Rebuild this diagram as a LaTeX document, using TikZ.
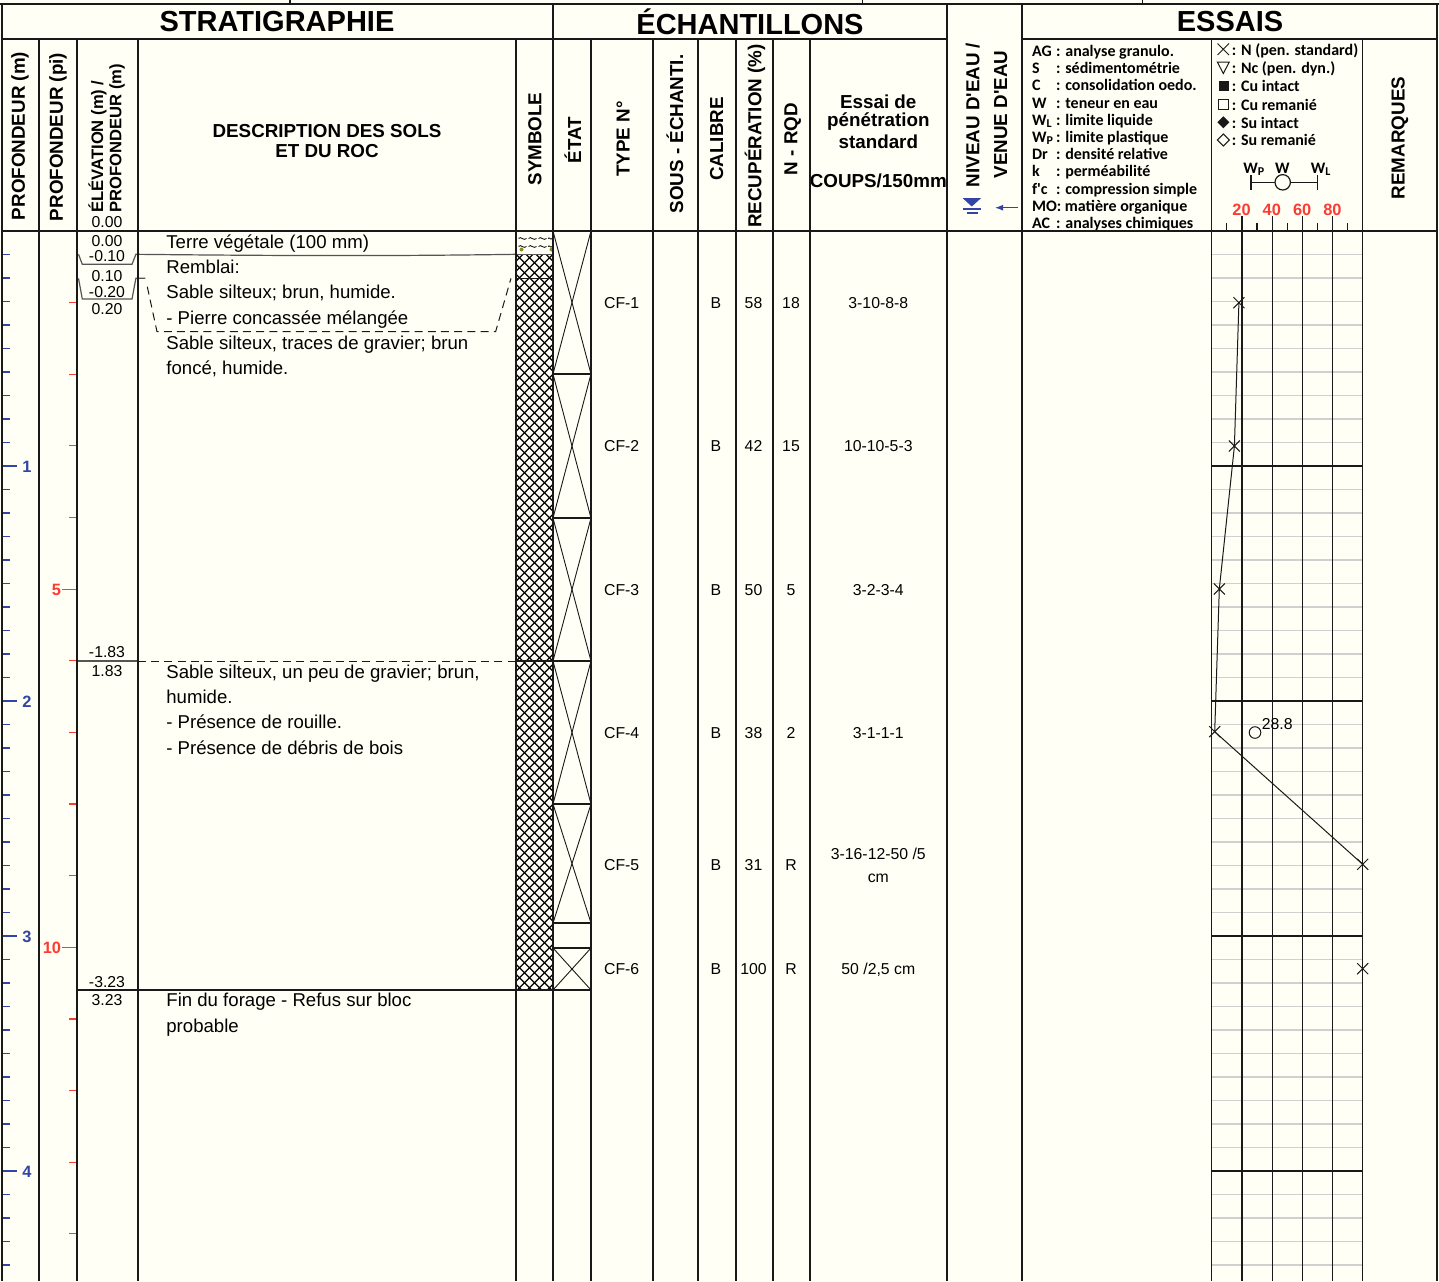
\documentclass[tikz,border=0pt]{standalone}
\usepackage{fontspec}
\setmainfont{Liberation Sans}
\newfontfamily\calfont{Carlito}
\usetikzlibrary{arrows.meta}
\definecolor{bgc}{RGB}{255,255,245}
\definecolor{scblue}{RGB}{50,68,165}
\definecolor{scred}{RGB}{250,60,50}
\definecolor{gridg}{RGB}{208,208,208}
\definecolor{lnc}{RGB}{25,25,25}
\definecolor{bndg}{RGB}{85,85,85}
\definecolor{dotc}{RGB}{140,140,40}
\tikzset{
  xm/.pic={\draw[lnc,line width=0.5pt] (-5.5,-5.5) -- (5.5,5.5) (-5.5,5.5) -- (5.5,-5.5);},
  frame/.style={draw=lnc,line width=0.6pt},
  thinl/.style={draw=lnc,line width=0.45pt},
  title/.style={font=\bfseries\fontsize{14.5}{17}\selectfont,inner sep=0pt},
  hdr/.style={font=\bfseries\fontsize{9.4}{11}\selectfont,inner sep=0pt,rotate=90},
  hdrs/.style={font=\bfseries\fontsize{8.3}{10}\selectfont,inner sep=0pt,rotate=90,anchor=west},
  hdrh/.style={font=\bfseries\fontsize{9.4}{11}\selectfont,inner sep=0pt},
  desc/.style={font=\fontsize{9.3}{11}\selectfont,inner sep=0pt,anchor=west,text height=6.7pt,text depth=1.9pt,yshift=-1pt},
  dat/.style={font=\fontsize{7.9}{9.5}\selectfont,inner sep=0pt,text height=5.7pt,text depth=1.6pt,yshift=-1pt},
  leg/.style={font=\calfont\bfseries\fontsize{8}{9.5}\selectfont,inner sep=0pt,anchor=west,text height=5.2pt,text depth=1.5pt,yshift=-1pt},
  sclab/.style={font=\bfseries\fontsize{8.2}{9.5}\selectfont,inner sep=0pt,yshift=-0.5pt},
}
\begin{document}
\begin{tikzpicture}[x=0.5pt,y=-0.5pt]
\fill[bgc] (0,0) rectangle (1439,1281);
\useasboundingbox (0,0) rectangle (1439,1281);

% ---------- chart grid ----------
\foreach \k in {1,...,44}{\draw[gridg,line width=0.8pt] (1211.7,{231+23.5*\k}) -- (1362.7,{231+23.5*\k});}
\foreach \y in {466,701,936,1171}{\draw[frame] (1211.7,\y) -- (1362.7,\y);}
\foreach \x in {1241.9,1272.1,1302.3,1332.5}{\draw[frame] (\x,216) -- (\x,1281);}
\foreach \x in {1226.8,1257.0,1287.2,1317.4,1347.6}{\draw[frame] (\x,223) -- (\x,231);}

% ---------- left scales ----------
\foreach \k in {0,...,44}{\draw[scblue,line width=0.6pt] (2,{231+23.5*\k}) -- (10,{231+23.5*\k});}
\foreach \k in {0,10,20,30,40}{\draw[scblue,line width=0.6pt] (2,{231+23.5*\k}) -- (17,{231+23.5*\k});}
\node[sclab,text=scblue] (m1) at (27,466) {1};
\node[sclab,text=scblue] (m2) at (27,701) {2};
\node[sclab,text=scblue] (m3) at (27,936) {3};
\node[sclab,text=scblue] (m4) at (27,1171) {4};
\foreach \j in {0,...,14}{\draw[scred,line width=0.6pt] (69,{231+71.628*\j}) -- (77,{231+71.628*\j});}
\foreach \j in {0,5,10}{\draw[scred,line width=0.6pt] (62,{231+71.628*\j}) -- (77,{231+71.628*\j});}
\node[sclab,text=scred,anchor=east] (f5) at (61.5,589.1) {5};
\node[sclab,text=scred,anchor=east] (f10) at (61.5,947.3) {10};

% ---------- symbol column ----------
\begin{scope}
\clip (516,254.3) rectangle (553,990);
\foreach \c in {-740,-730,...,50}{
  \draw[black,line width=0.6pt] ({516+\c},254.3) -- ({516+\c+736},990.3);
  \draw[black,line width=0.6pt] ({553-\c},254.3) -- ({553-\c-736},990.3);
}
\end{scope}
\foreach \yy in {238.5,246.5}{
  \foreach \xs in {518.5,528.5,538.5}{
    \draw[lnc,line width=0.45pt] (\xs,\yy) .. controls ({\xs+2.5},{\yy-3}) and ({\xs+5},{\yy+3}) .. ({\xs+8},\yy);
  }
  \draw[lnc,line width=0.45pt] (548,\yy) .. controls (549.5,{\yy-2}) and (550.5,{\yy+2}) .. (552,\yy);
}
\fill[dotc] (521.5,249.5) circle (1pt);
\fill[dotc] (551.5,249.5) circle (1pt);
\draw[bndg,line width=0.6pt] (516,254.3) -- (553,254.3);
\draw[lnc,line width=0.6pt] (516,278.3) -- (553,278.3);
\draw[lnc,line width=0.6pt] (516,661) -- (553,661);

% ---------- samples (etat) ----------
\foreach \a/\b in {231/374,374/518,518/661,661/804,804/923,948/990}{
  \draw[thinl] (553,\a) -- (591,\b);
  \draw[thinl] (591,\a) -- (553,\b);
  \draw[frame] (553,\b) -- (591,\b);
}
\draw[frame] (553,948) -- (591,948);

% ---------- layer boundaries ----------
\draw[bndg,line width=0.6pt] (78.5,254.3) -- (82.3,264.3) -- (132,264.3) -- (135.9,254.3) .. controls (300,256) and (400,256) .. (516,254.3);
\draw[bndg,line width=0.6pt] (78.5,278.3) -- (82.3,299) -- (132,299) -- (135.9,278.3) -- (145.4,278.3);
\draw[lnc,line width=0.5pt,dash pattern=on 4pt off 2.6pt] (147.3,286.7) -- (157,331.7) -- (495.6,331.7) -- (511,278.3);
\draw[bndg,line width=0.6pt] (77,661) -- (138,661);
\draw[lnc,line width=0.5pt,dash pattern=on 4pt off 2.6pt] (138,661) -- (516,661);
\draw[lnc,line width=0.6pt] (77,990) -- (591,990);

% ---------- elevation labels ----------
\node[dat] (e0h) at (107,221) {0.00};
\node[dat] (e0) at (107,240) {0.00};
\node[dat] (e1a) at (107,255.7) {-0.10};
\node[dat] (e1b) at (107,275) {0.10};
\node[dat] (e2a) at (107,291) {-0.20};
\node[dat] (e2b) at (107,308) {0.20};
\node[dat] (e3a) at (107,651) {-1.83};
\node[dat] (e3b) at (107,670) {1.83};
\node[dat] (e4a) at (107,981) {-3.23};
\node[dat] (e4b) at (107,999) {3.23};

% ---------- descriptions ----------
\node[desc] (d1) at (166,242) {Terre végétale (100 mm)};
\node[desc] (d2) at (166,267) {Remblai:};
\node[desc] (d3) at (166,292) {Sable silteux; brun, humide.};
\node[desc] (d4) at (166,318) {- Pierre concassée mélangée};
\node[desc] (d5) at (166,343) {Sable silteux, traces de gravier; brun};
\node[desc] (d6) at (166,368) {foncé, humide.};
\node[desc] (d7) at (166,672) {Sable silteux, un peu de gravier; brun,};
\node[desc] (d8) at (166,697) {humide.};
\node[desc] (d9) at (166,722) {- Présence de rouille.};
\node[desc] (d10) at (166,748) {- Présence de débris de bois};
\node[desc] (d11) at (166,1000) {Fin du forage - Refus sur bloc};
\node[desc] (d12) at (166,1026) {probable};

% ---------- sample data ----------
\foreach \n/\yy/\rc/\nv/\es in {1/302/58/18/3-10-8-8,2/445/42/15/10-10-5-3,3/589/50/5/3-2-3-4,4/732/38/2/3-1-1-1,6/968/100/R/{50 /2,5 cm}}{
  \node[dat] (t\n) at (621.7,\yy) {CF-\n};
  \node[dat] (c\n) at (716,\yy) {B};
  \node[dat] (r\n) at (753.5,\yy) {\rc};
  \node[dat] (n\n) at (791,\yy) {\nv};
  \node[dat] (s\n) at (878.3,\yy) {\es};
}
\node[dat] (t5) at (621.7,864.5) {CF-5};
\node[dat] (c5) at (716,864.5) {B};
\node[dat] (r5) at (753.5,864.5) {31};
\node[dat] (n5) at (791,864.5) {R};
\node[dat] (s5a) at (878.3,853) {3-16-12-50 /5};
\node[dat] (s5b) at (878.3,876) {cm};

% ---------- chart data ----------
\coordinate (p1) at (1238.9,302.7);
\coordinate (p2) at (1234.4,446);
\coordinate (p3) at (1219.3,589);
\coordinate (p4) at (1214.7,731.7);
\coordinate (p5) at (1362.7,864.3);
\coordinate (p6) at (1362.7,968.7);
\draw[lnc,line width=0.5pt] (p1) -- (p2) -- (p3) -- (p4) -- (p5);
\foreach \p in {p1,p2,p3,p4,p5,p6}{\pic at (\p) {xm};}
\draw[lnc,line width=0.5pt] (1255,732.5) circle (2.9pt);
\node[dat,anchor=west] (w288) at (1261.5,723.3) {28.8};

% ---------- header titles ----------
\node[title] (tS) at (277,21.5) {STRATIGRAPHIE};
\node[title] (tE) at (750,21.5) {ÉCHANTILLONS};
\node[title] (tT) at (1230,22) {ESSAIS};

\node[hdr] (hpm) at (20,136) {PROFONDEUR (m)};
\node[hdr] (hpi) at (58,137) {PROFONDEUR (pi)};
\node[hdrs] (hel) at (97.5,213) {ÉLÉVATION (m) /};
\node[hdrs] (hel2) at (117,213) {PROFONDEUR (m)};
\node[hdrh] (hd1) at (327,131) {DESCRIPTION DES SOLS};
\node[hdrh] (hd2) at (327,151) {ET DU ROC};
\node[hdr] (hsy) at (535,139) {SYMBOLE};
\node[hdr] (het) at (572.7,140) {ÉTAT};
\node[hdr] (hty) at (623,139) {TYPE N°};
\node[hdr] (hso) at (675,134) {SOUS - ÉCHANTI.};
\node[hdr] (hca) at (716.7,139) {CALIBRE};
\node[hdr] (hre) at (755,136) {RECUPÉRATION (\%)};
\node[hdr] (hn) at (792.7,139) {N - RQD};
\node[hdrh] (hes1) at (878.3,101.7) {Essai de};
\node[hdrh] (hes2) at (878.3,121.7) {pénétration};
\node[hdrh] (hes3) at (878.3,141.7) {standard};
\node[hdrh] (hes4) at (878.3,180.5) {COUPS/150mm};
\node[hdr] (hni) at (972.7,115) {NIVEAU D\textquotesingle EAU /};
\node[hdr] (hve) at (1000.7,114.5) {VENUE D\textquotesingle EAU};
\node[hdr] (hrm) at (1400,138) {REMARQUES};

% water symbols
\fill[scblue] (962.5,198) -- (981.2,198) -- (971.8,206.5) -- cycle;
\draw[scblue,line width=0.9pt] (962.5,208.7) -- (981.2,208.7);
\draw[scblue,line width=0.9pt] (966.5,213) -- (977.5,213);
\coordinate (arA) at (1017.5,207.7);
\coordinate (arB) at (995,207.7);
\draw[scblue,line width=0.6pt,-{Latex[length=4pt,width=3pt]}] (arA) -- (arB);

% ---------- legend ----------
\node[leg] (la1) at (1031.7,50.7) {AG};
\node[leg] (lb1) at (1055.7,50.7) {: analyse granulo.};
\node[leg] (la2) at (1031.7,67.9) {S};
\node[leg] (lb2) at (1055.7,67.9) {: sédimentométrie};
\node[leg] (la3) at (1031.7,85.1) {C};
\node[leg] (lb3) at (1055.7,85.1) {: consolidation oedo.};
\node[leg] (la4) at (1031.7,102.3) {W};
\node[leg] (lb4) at (1055.7,102.3) {: teneur en eau};
\node[leg] (la5) at (1031.7,119.5) {W\textsubscript{L}};
\node[leg] (lb5) at (1055.7,119.5) {: limite liquide};
\node[leg] (la6) at (1031.7,136.7) {W\textsubscript{P}};
\node[leg] (lb6) at (1055.7,136.7) {: limite plastique};
\node[leg] (la7) at (1031.7,153.9) {Dr};
\node[leg] (lb7) at (1055.7,153.9) {: densité relative};
\node[leg] (la8) at (1031.7,171.1) {k};
\node[leg] (lb8) at (1055.7,171.1) {: perméabilité};
\node[leg] (la9) at (1031.7,188.3) {f\textquotesingle c};
\node[leg] (lb9) at (1055.7,188.3) {: compression simple};
\node[leg] (la10) at (1031.7,205.5) {MO: matière organique};
\node[leg] (la11) at (1031.7,222.7) {AC};
\node[leg] (lb11) at (1055.7,222.7) {: analyses chimiques};

\draw[lnc,line width=0.5pt] (1217.5,43.5) -- (1229,55) (1217.5,55) -- (1229,43.5);
\draw[lnc,line width=0.5pt] (1217.3,62) -- (1229.3,62) -- (1223.3,73.5) -- cycle;
\fill[lnc] (1218.5,80.5) rectangle (1228.5,90.5);
\draw[lnc,line width=0.5pt] (1218.5,99.5) rectangle (1228.5,109.5);
\fill[lnc] (1223.3,116.3) -- (1229.3,122.3) -- (1223.3,128.3) -- (1217.3,122.3) -- cycle;
\draw[lnc,line width=0.5pt] (1223.3,134) -- (1229.3,140) -- (1223.3,146) -- (1217.3,140) -- cycle;
\node[leg] (lr1) at (1231.5,49.3) {: N (pen. standard)};
\node[leg] (lr2) at (1231.5,67.7) {: Nc (pen. dyn.)};
\node[leg] (lr3) at (1231.5,85.5) {: Cu intact};
\node[leg] (lr4) at (1231.5,104.3) {: Cu remanié};
\node[leg] (lr5) at (1231.5,122.3) {: Su intact};
\node[leg] (lr6) at (1231.5,140) {: Su remanié};

\node[leg,anchor=base west] (wp) at (1243,171.5) {W\textsubscript{P}};
\node[leg,anchor=base] (ww) at (1282.3,171.5) {W};
\node[leg,anchor=base west] (wl) at (1310.5,171.5) {W\textsubscript{L}};
\draw[lnc,line width=0.7pt] (1251,182.3) -- (1275,182.3) (1290.4,182.3) -- (1317.7,182.3);
\draw[lnc,line width=0.7pt] (1251,175) -- (1251,190) (1317.7,175) -- (1317.7,190);
\draw[lnc,line width=0.6pt] (1282.7,182.3) circle (3.85pt);
\node[sclab,text=scred] (g20) at (1241.5,209) {20};
\node[sclab,text=scred] (g40) at (1271.8,209) {40};
\node[sclab,text=scred] (g60) at (1302.2,209) {60};
\node[sclab,text=scred] (g80) at (1332.4,209) {80};

% ---------- frame ----------
\draw[frame] (0,4) -- (1439,4);
\foreach \x in {290,862.5,1142.5}{\draw[frame] (\x,0) -- (\x,4);}
\draw[frame] (2,39) -- (947,39);
\draw[frame] (1022,39) -- (1437,39);
\draw[frame] (2,231) -- (1437,231);
\draw[lnc,line width=1.3pt] (2,4) -- (2,1281);
\foreach \x in {39,77,516,591,653,698,736,773,810,1211.7,1362.7}{\draw[frame] (\x,39) -- (\x,1281);}
\draw[lnc,line width=0.8pt] (138,39) -- (138,1281);
\foreach \x in {553,947,1022,1437}{\draw[frame] (\x,4) -- (\x,1281);}
\end{tikzpicture}
\end{document}
